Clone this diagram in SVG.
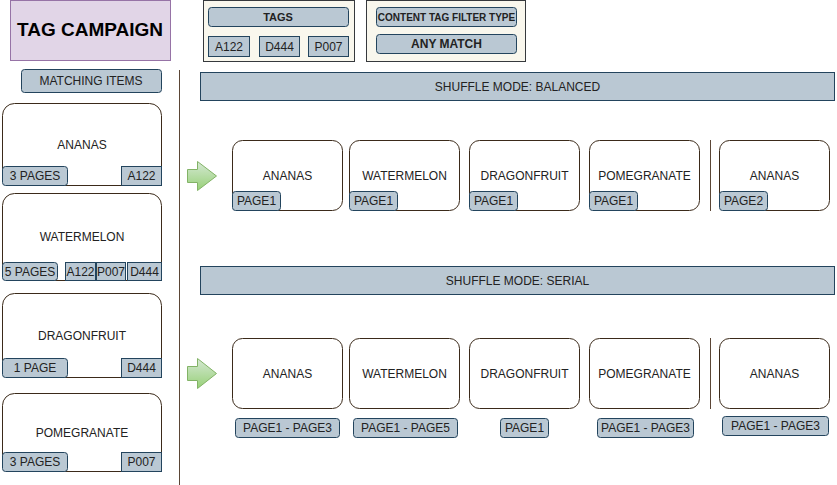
<svg xmlns="http://www.w3.org/2000/svg" width="837" height="485" viewBox="0 0 837 485">
<defs>
<linearGradient id="g" x1="0" y1="0" x2="0" y2="1"><stop offset="0" stop-color="#d5e8d4"/><stop offset="1" stop-color="#97d077"/></linearGradient>
<style>
text{font-family:"Liberation Sans",Arial,sans-serif;font-size:12px;fill:#222;text-anchor:middle;dominant-baseline:central}
.b{font-weight:bold}
.lbl{fill:#bac8d3;stroke:#23445d;stroke-width:1}
.card{fill:#fff;stroke:#3b2a1a;stroke-width:1}
.panel{fill:#f9f7ed;stroke:#36393d;stroke-width:1}
.arr{fill:url(#g);stroke:#82b366;stroke-width:1}
.sep{stroke:#5b4636;stroke-width:1;fill:none}
</style>
</defs>
<rect width="837" height="485" fill="#fff"/>

<g id="title">
<rect x="10.5" y="0.5" width="160" height="60" fill="#e1d5e7" stroke="#9673a6"/>
<text x="90" y="29" class="b" style="font-size:19px;fill:#000">TAG CAMPAIGN</text>
</g>

<g id="matching-items">
<rect x="21.5" y="69.5" width="140" height="23" rx="3" class="lbl"/>
<text x="91" y="81">MATCHING ITEMS</text>
</g>

<g id="tags-panel">
<rect x="203.5" y="0.5" width="151" height="61" class="panel"/>
<rect x="208.5" y="7.5" width="140" height="19" rx="3" class="lbl"/>
<text x="278" y="17" class="b" style="font-size:11px">TAGS</text>
<rect x="208.5" y="36.5" width="41" height="20" class="lbl"/>
<text x="229" y="46.5">A122</text>
<rect x="259.5" y="36.5" width="40" height="20" class="lbl"/>
<text x="279.5" y="46.5">D444</text>
<rect x="308.5" y="36.5" width="40" height="20" class="lbl"/>
<text x="328.5" y="46.5">P007</text>
</g>

<g id="filter-panel">
<rect x="366.5" y="0.5" width="159" height="61" class="panel"/>
<rect x="376.5" y="7.5" width="140" height="19" rx="3" class="lbl"/>
<text x="446.5" y="17" class="b" style="font-size:10px">CONTENT TAG FILTER TYPE</text>
<rect x="376.5" y="34.5" width="140" height="19" rx="3" class="lbl"/>
<text x="446.5" y="44" class="b">ANY MATCH</text>
</g>

<g id="item-ananas">
<rect x="2.5" y="103.5" width="159" height="82" rx="12" class="card"/>
<text x="82" y="144.5">ANANAS</text>
<rect x="2.5" y="166.5" width="65" height="19" rx="3" class="lbl"/>
<text x="35" y="176">3 PAGES</text>
<rect x="121.5" y="166.5" width="40" height="19" class="lbl"/>
<text x="141.5" y="176">A122</text>
</g>

<g id="item-watermelon">
<rect x="2.5" y="193.5" width="159" height="87" rx="12" class="card"/>
<text x="82" y="237">WATERMELON</text>
<rect x="2.5" y="262.5" width="55" height="18" rx="3" class="lbl"/>
<text x="30" y="271.5">5 PAGES</text>
<rect x="65.5" y="262.5" width="30" height="18" class="lbl"/>
<text x="80.5" y="271.5">A122</text>
<rect x="96.5" y="262.5" width="29" height="18" class="lbl"/>
<text x="111" y="271.5">P007</text>
<rect x="127.5" y="262.5" width="34" height="18" class="lbl"/>
<text x="144.5" y="271.5">D444</text>
</g>

<g id="item-dragonfruit">
<rect x="2.5" y="293.5" width="159" height="84" rx="12" class="card"/>
<text x="82" y="335.5">DRAGONFRUIT</text>
<rect x="2.5" y="358.5" width="65" height="19" rx="3" class="lbl"/>
<text x="35" y="368">1 PAGE</text>
<rect x="121.5" y="358.5" width="40" height="19" class="lbl"/>
<text x="141.5" y="368">D444</text>
</g>

<g id="item-pomegranate">
<rect x="2.5" y="393.5" width="159" height="78" rx="12" class="card"/>
<text x="82" y="432.5">POMEGRANATE</text>
<rect x="2.5" y="452.5" width="65" height="19" rx="3" class="lbl"/>
<text x="35" y="462">3 PAGES</text>
<rect x="121.5" y="452.5" width="40" height="19" class="lbl"/>
<text x="141.5" y="462">P007</text>
</g>

<g id="separators">
<line x1="179.5" y1="70" x2="179.5" y2="485" class="sep"/>
<line x1="710.5" y1="140" x2="710.5" y2="211" class="sep" stroke="#333"/>
<line x1="710.5" y1="338" x2="710.5" y2="409" class="sep" stroke="#333"/>
</g>

<g id="header-balanced">
<rect x="200.5" y="72.5" width="634" height="28" class="lbl"/>
<text x="517.5" y="86.5">SHUFFLE MODE: BALANCED</text>
</g>

<g id="header-serial">
<rect x="200.5" y="266.5" width="634" height="28" class="lbl"/>
<text x="517.5" y="280.5">SHUFFLE MODE: SERIAL</text>
</g>

<g id="connectors">
<path d="M187.5,169.5 H197.5 V161.5 L216.5,176 L197.5,190.5 V182.5 H187.5 Z" class="arr"/>
<path d="M187.5,366.5 H197.5 V358.5 L216.5,373.5 L197.5,388.5 V380.5 H187.5 Z" class="arr"/>
</g>

<g id="balanced-ananas">
<rect x="232.5" y="140.5" width="110" height="70" rx="10" class="card"/>
<text x="287.5" y="175.5">ANANAS</text>
<rect x="232.5" y="191.5" width="48" height="19" rx="3" class="lbl"/>
<text x="256.5" y="201">PAGE1</text>
</g>
<g id="balanced-watermelon">
<rect x="349.5" y="140.5" width="110" height="70" rx="10" class="card"/>
<text x="404.5" y="175.5">WATERMELON</text>
<rect x="349.5" y="191.5" width="48" height="19" rx="3" class="lbl"/>
<text x="373.5" y="201">PAGE1</text>
</g>
<g id="balanced-dragonfruit">
<rect x="469.5" y="140.5" width="110" height="70" rx="10" class="card"/>
<text x="524.5" y="175.5">DRAGONFRUIT</text>
<rect x="469.5" y="191.5" width="48" height="19" rx="3" class="lbl"/>
<text x="493.5" y="201">PAGE1</text>
</g>
<g id="balanced-pomegranate">
<rect x="589.5" y="140.5" width="110" height="70" rx="10" class="card"/>
<text x="644.5" y="175.5">POMEGRANATE</text>
<rect x="589.5" y="191.5" width="48" height="19" rx="3" class="lbl"/>
<text x="613.5" y="201">PAGE1</text>
</g>
<g id="balanced-ananas-2">
<rect x="719.5" y="140.5" width="110" height="70" rx="10" class="card"/>
<text x="774.5" y="175.5">ANANAS</text>
<rect x="719.5" y="191.5" width="48" height="19" rx="3" class="lbl"/>
<text x="743.5" y="201">PAGE2</text>
</g>

<g id="serial-ananas">
<rect x="232.5" y="338.5" width="110" height="70" rx="10" class="card"/>
<text x="287.5" y="373.5">ANANAS</text>
<rect x="235.5" y="418.5" width="104" height="19" rx="3" class="lbl"/>
<text x="287.5" y="428">PAGE1 - PAGE3</text>
</g>
<g id="serial-watermelon">
<rect x="349.5" y="338.5" width="110" height="70" rx="10" class="card"/>
<text x="404.5" y="373.5">WATERMELON</text>
<rect x="353.5" y="418.5" width="104" height="19" rx="3" class="lbl"/>
<text x="405.5" y="428">PAGE1 - PAGE5</text>
</g>
<g id="serial-dragonfruit">
<rect x="469.5" y="338.5" width="110" height="70" rx="10" class="card"/>
<text x="524.5" y="373.5">DRAGONFRUIT</text>
<rect x="500.5" y="418.5" width="48" height="19" rx="3" class="lbl"/>
<text x="524.5" y="428">PAGE1</text>
</g>
<g id="serial-pomegranate">
<rect x="589.5" y="338.5" width="110" height="70" rx="10" class="card"/>
<text x="644.5" y="373.5">POMEGRANATE</text>
<rect x="597.5" y="418.5" width="96" height="19" rx="3" class="lbl"/>
<text x="645.5" y="428">PAGE1 - PAGE3</text>
</g>
<g id="serial-ananas-2">
<rect x="719.5" y="338.5" width="110" height="70" rx="10" class="card"/>
<text x="774.5" y="373.5">ANANAS</text>
<rect x="722.5" y="416.5" width="106" height="19" rx="3" class="lbl"/>
<text x="775.5" y="425.5">PAGE1 - PAGE3</text>
</g>
</svg>
